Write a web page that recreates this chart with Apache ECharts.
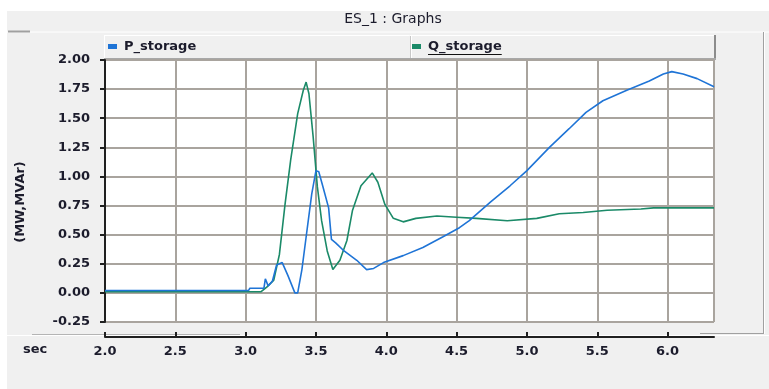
<!DOCTYPE html>
<html>
<head>
<meta charset="utf-8">
<title>ES_1 : Graphs</title>
<script src="https://cdn.jsdelivr.net/npm/echarts@6/dist/echarts.min.js"></script>
<style>
  html, body { margin: 0; padding: 0; background: #ffffff; }
  #chart { width: 769px; height: 389px; }
</style>
</head>
<body>
<div id="chart"></div>
<script>
// Storage unit active / reactive power over time (seconds)
const pTime = [2.0, 3.02, 3.03, 3.13, 3.14, 3.16, 3.19, 3.22, 3.26, 3.30, 3.35, 3.37, 3.40, 3.43, 3.47, 3.50, 3.52, 3.55, 3.59, 3.61, 3.64, 3.70, 3.79, 3.86, 3.91, 3.98, 4.12, 4.26, 4.40, 4.52, 4.59, 4.74, 4.88, 5.00, 5.16, 5.30, 5.42, 5.54, 5.71, 5.87, 5.97, 6.03, 6.11, 6.21, 6.33];
const pValues = [0.02, 0.02, 0.04, 0.04, 0.12, 0.06, 0.10, 0.24, 0.26, 0.15, 0.00, 0.00, 0.20, 0.48, 0.85, 1.05, 1.04, 0.91, 0.73, 0.46, 0.43, 0.36, 0.28, 0.20, 0.21, 0.26, 0.32, 0.39, 0.48, 0.56, 0.62, 0.78, 0.92, 1.05, 1.25, 1.41, 1.55, 1.65, 1.74, 1.82, 1.88, 1.90, 1.88, 1.84, 1.77];

const qTime = [2.0, 3.11, 3.15, 3.20, 3.24, 3.28, 3.32, 3.37, 3.41, 3.43, 3.45, 3.48, 3.51, 3.54, 3.58, 3.62, 3.67, 3.72, 3.76, 3.82, 3.90, 3.94, 3.99, 4.05, 4.12, 4.21, 4.36, 4.50, 4.64, 4.86, 5.07, 5.23, 5.40, 5.57, 5.81, 5.90, 6.33];
const qValues = [0.01, 0.01, 0.05, 0.11, 0.33, 0.76, 1.14, 1.54, 1.74, 1.81, 1.71, 1.34, 0.91, 0.62, 0.36, 0.20, 0.28, 0.45, 0.71, 0.92, 1.03, 0.95, 0.76, 0.64, 0.61, 0.64, 0.66, 0.65, 0.64, 0.62, 0.64, 0.68, 0.69, 0.71, 0.72, 0.73, 0.73];

const seriesNames = ['P_storage', 'Q_storage'];
const seriesColors = ['#1f74d6', '#1b8a68'];
const xMin = 2.0, xMax = 6.33, xStep = 0.5;
const yMin = -0.25, yMax = 2.0, yStep = 0.25;
const titleText = 'ES_1 : Graphs';
const yAxisTitle = '(MW,MVAr)';
const xAxisTitle = 'sec';

const FONT = 'DejaVu Sans';
const TEXT_COLOR = '#1c1c2c';
const LABEL_SIZE = 13;
const LEGEND_SIZE = 13;

const pairs = (xs, ys) => xs.map((x, i) => [x, ys[i]]);

// width of the underlined legend entry, measured with the same font
const measureCtx = document.createElement('canvas').getContext('2d');
measureCtx.font = 'bold ' + LEGEND_SIZE + 'px "' + FONT + '"';
const qTextWidth = measureCtx.measureText(seriesNames[1]).width;
const qTextLeft = 428;

const chart = echarts.init(document.getElementById('chart'), null, { renderer: 'canvas' });

const legendBase = {
  orient: 'horizontal',
  top: 40,
  icon: 'rect',
  itemWidth: 9,
  itemHeight: 5,
  itemGap: 0,
  padding: 0,
  selectedMode: false,
  textStyle: { fontFamily: FONT, fontSize: LEGEND_SIZE, fontWeight: 'bold', color: TEXT_COLOR, padding: [0, 0, 0, 2] }
};

chart.setOption({
  animation: false,
  backgroundColor: '#f0f0f0',
  graphic: [
    // window frame strips
    { type: 'rect', shape: { x: 0, y: 0, width: 769, height: 11 }, style: { fill: '#ffffff' }, silent: true },
    { type: 'rect', shape: { x: 0, y: 0, width: 7, height: 389 }, style: { fill: '#ffffff' }, silent: true },
    { type: 'line', shape: { x1: 7, y1: 32, x2: 769, y2: 32 }, style: { stroke: '#ffffff', lineWidth: 1 }, silent: true },
    { type: 'line', shape: { x1: 8, y1: 31.5, x2: 30, y2: 31.5 }, style: { stroke: '#a0a0a0', lineWidth: 2 }, silent: true },
    { type: 'line', shape: { x1: 7, y1: 335.5, x2: 769, y2: 335.5 }, style: { stroke: '#ffffff', lineWidth: 1 }, silent: true },
    { type: 'line', shape: { x1: 32, y1: 334.5, x2: 240, y2: 334.5 }, style: { stroke: '#b4b4b4', lineWidth: 1 }, silent: true },
    { type: 'line', shape: { x1: 763.5, y1: 32, x2: 763.5, y2: 334 }, style: { stroke: '#a0a0a0', lineWidth: 1 }, silent: true },
    { type: 'line', shape: { x1: 764.5, y1: 32, x2: 764.5, y2: 334 }, style: { stroke: '#ffffff', lineWidth: 1 }, silent: true },
    { type: 'line', shape: { x1: 700, y1: 333.5, x2: 764, y2: 333.5 }, style: { stroke: '#a0a0a0', lineWidth: 1 }, silent: true },
    // title
    { type: 'text', x: 393, y: 19, style: { text: titleText, fontFamily: FONT, fontSize: 14, fill: TEXT_COLOR, align: 'center', verticalAlign: 'middle' }, silent: true },
    // legend bar
    { type: 'rect', shape: { x: 104, y: 35, width: 611, height: 24 }, style: { fill: '#f0f0f0' }, silent: true, z: -1 },
    { type: 'line', shape: { x1: 104, y1: 35.5, x2: 715, y2: 35.5 }, style: { stroke: '#ffffff', lineWidth: 1 }, silent: true },
    { type: 'line', shape: { x1: 104.5, y1: 35, x2: 104.5, y2: 59 }, style: { stroke: '#ffffff', lineWidth: 1 }, silent: true },
    { type: 'line', shape: { x1: 715, y1: 35, x2: 715, y2: 60 }, style: { stroke: '#8c8c8c', lineWidth: 2 }, silent: true },
    { type: 'line', shape: { x1: 104, y1: 59, x2: 716, y2: 59 }, style: { stroke: '#a8a8a8', lineWidth: 2 }, silent: true },
    { type: 'line', shape: { x1: 410.5, y1: 36, x2: 410.5, y2: 58 }, style: { stroke: '#c8c8c8', lineWidth: 1 }, silent: true },
    { type: 'line', shape: { x1: 411.5, y1: 36, x2: 411.5, y2: 58 }, style: { stroke: '#ffffff', lineWidth: 1 }, silent: true },
    // underline of the active legend entry
    { type: 'line', shape: { x1: qTextLeft, y1: 54.5, x2: qTextLeft + qTextWidth, y2: 54.5 }, style: { stroke: '#111111', lineWidth: 1 }, silent: true, z: 10 },
    // axis titles
    { type: 'text', x: 23, y: 350, style: { text: xAxisTitle, fontFamily: FONT, fontSize: LABEL_SIZE, fontWeight: 'bold', fill: TEXT_COLOR, verticalAlign: 'middle' }, silent: true },
    { type: 'text', x: 21, y: 202, rotation: Math.PI / 2, style: { text: yAxisTitle, fontFamily: FONT, fontSize: 13, fontWeight: 'bold', fill: TEXT_COLOR, align: 'center', verticalAlign: 'middle' }, silent: true }
  ],
  legend: [
    Object.assign({}, legendBase, { left: 108, data: [seriesNames[0]] }),
    Object.assign({}, legendBase, { left: 412, data: [seriesNames[1]] })
  ],
  grid: {
    left: 105,
    right: 55,
    top: 60,
    bottom: 67,
    show: true,
    backgroundColor: '#ffffff',
    borderWidth: 0
  },
  xAxis: {
    type: 'value',
    min: xMin,
    max: xMax,
    interval: xStep,
    offset: 15,
    axisLine: { show: true, onZero: false, lineStyle: { color: '#202020', width: 2 } },
    axisTick: { show: true, inside: true, length: 5, lineStyle: { color: '#202020', width: 2 } },
    axisLabel: {
      show: true, margin: 8, showMaxLabel: false,
      fontFamily: FONT, fontSize: LABEL_SIZE, fontWeight: 'bold', color: TEXT_COLOR,
      formatter: v => v.toFixed(1)
    },
    splitLine: { show: true, lineStyle: { color: '#a9a49e', width: 2 } }
  },
  yAxis: {
    type: 'value',
    min: yMin,
    max: yMax,
    interval: yStep,
    axisLine: { show: true, onZero: false, lineStyle: { color: '#202020', width: 2 } },
    axisTick: { show: true, inside: false, length: 5, lineStyle: { color: '#202020', width: 2 } },
    axisLabel: {
      show: true, margin: 15,
      fontFamily: FONT, fontSize: LABEL_SIZE, fontWeight: 'bold', color: TEXT_COLOR,
      formatter: v => v.toFixed(2)
    },
    splitLine: { show: true, lineStyle: { color: '#a9a49e', width: 2 } }
  },
  series: [
    {
      name: seriesNames[0], type: 'line', data: pairs(pTime, pValues),
      showSymbol: false, symbol: 'none', color: seriesColors[0],
      lineStyle: { color: seriesColors[0], width: 1.6 }, z: 3
    },
    {
      name: seriesNames[1], type: 'line', data: pairs(qTime, qValues),
      showSymbol: false, symbol: 'none', color: seriesColors[1],
      lineStyle: { color: seriesColors[1], width: 1.6 }, z: 2
    }
  ]
});
</script>
</body>
</html>
